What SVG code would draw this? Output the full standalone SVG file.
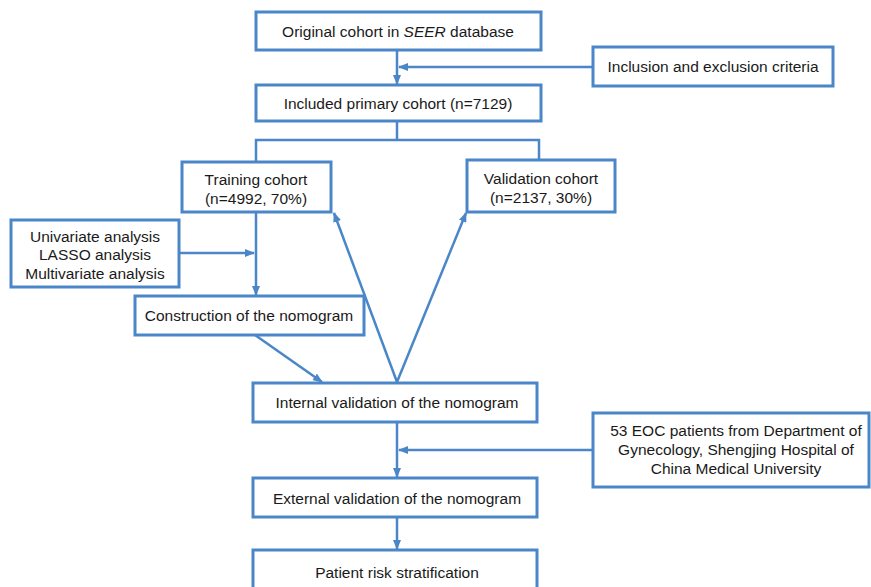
<svg xmlns="http://www.w3.org/2000/svg" width="871" height="587" viewBox="0 0 871 587">
<defs>
<marker id="ah" markerWidth="10" markerHeight="8" refX="9" refY="4" orient="auto" markerUnits="userSpaceOnUse">
<path d="M0,0 L10,4 L0,8 Z" fill="#4a86c8"/>
</marker>
<style>
.box{fill:#fff;stroke:#4a86c8;stroke-width:3}
.ln{fill:none;stroke:#4a86c8;stroke-width:2.5}
text{font-family:"Liberation Sans",Arial,sans-serif;font-size:15.5px;fill:#1a1a1a;text-anchor:middle}
</style>
</defs>
<rect width="871" height="587" fill="#fff"/>
<g id="connectors">
<line class="ln" x1="397" y1="50" x2="397" y2="84" marker-end="url(#ah)"/>
<line class="ln" x1="593" y1="67" x2="399" y2="67" marker-end="url(#ah)"/>
<polyline class="ln" points="397,121 397,140"/>
<polyline class="ln" points="256,162 256,140 539,140 539,160"/>
<line class="ln" x1="256" y1="212" x2="256" y2="295" marker-end="url(#ah)"/>
<line class="ln" x1="179" y1="253" x2="254" y2="253" marker-end="url(#ah)"/>
<line class="ln" x1="255" y1="335" x2="322" y2="382" marker-end="url(#ah)"/>
<line class="ln" x1="397" y1="382" x2="334" y2="213" marker-end="url(#ah)"/>
<line class="ln" x1="397" y1="382" x2="466" y2="213" marker-end="url(#ah)"/>
<line class="ln" x1="397" y1="422" x2="397" y2="477" marker-end="url(#ah)"/>
<line class="ln" x1="593" y1="450" x2="399" y2="450" marker-end="url(#ah)"/>
<line class="ln" x1="397" y1="517" x2="397" y2="549" marker-end="url(#ah)"/>
</g>
<g id="original">
<rect class="box" x="256" y="12" width="285" height="38"/>
<text x="398" y="37">Original cohort in <tspan font-style="italic">SEER</tspan> database</text>
</g>
<g id="criteria">
<rect class="box" x="593" y="47" width="240" height="39"/>
<text x="713" y="72">Inclusion and exclusion criteria</text>
</g>
<g id="included">
<rect class="box" x="256" y="85" width="285" height="36"/>
<text x="398" y="109">Included primary cohort (n=7129)</text>
</g>
<g id="training">
<rect class="box" x="182" y="162" width="149" height="50"/>
<text x="256" y="185">Training cohort</text>
<text x="256" y="204">(n=4992, 70%)</text>
</g>
<g id="validation">
<rect class="box" x="467" y="160" width="148" height="52"/>
<text x="541" y="184">Validation cohort</text>
<text x="541" y="203">(n=2137, 30%)</text>
</g>
<g id="analysis">
<rect class="box" x="11" y="220" width="168" height="67"/>
<text x="95" y="242">Univariate analysis</text>
<text x="95" y="260">LASSO analysis</text>
<text x="95" y="279">Multivariate analysis</text>
</g>
<g id="construction">
<rect class="box" x="135" y="296" width="229" height="39"/>
<text x="249" y="321">Construction of the nomogram</text>
</g>
<g id="internal">
<rect class="box" x="253" y="383" width="284" height="39"/>
<text x="397" y="408">Internal validation of the nomogram</text>
</g>
<g id="eoc">
<rect class="box" x="593" y="413" width="276" height="74"/>
<text x="736" y="436">53 EOC patients from Department of</text>
<text x="736" y="455">Gynecology, Shengjing Hospital of</text>
<text x="736" y="474">China Medical University</text>
</g>
<g id="external">
<rect class="box" x="253" y="478" width="284" height="39"/>
<text x="397" y="504">External validation of the nomogram</text>
</g>
<g id="risk">
<rect class="box" x="253" y="550" width="284" height="42"/>
<text x="397" y="578">Patient risk stratification</text>
</g>
</svg>
